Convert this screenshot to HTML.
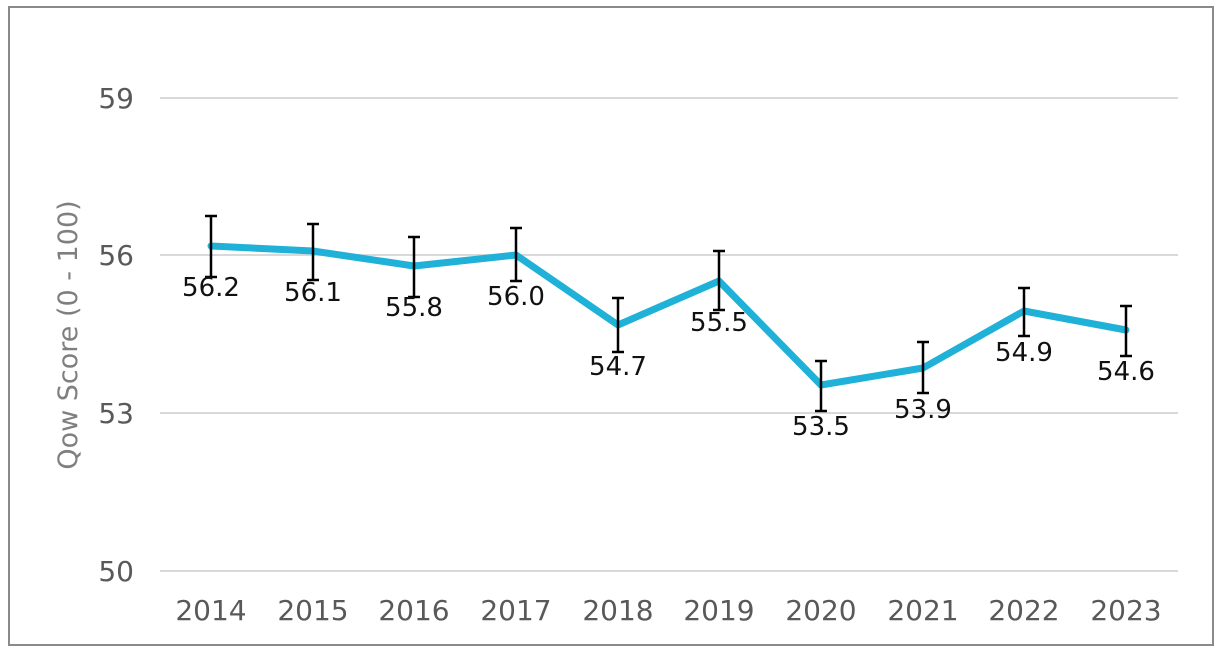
<!DOCTYPE html>
<html><head><meta charset="utf-8"><style>
html,body{margin:0;padding:0;background:#fff;}
svg{display:block;font-family:"DejaVu Sans","Liberation Sans",sans-serif;}
</style></head><body>
<svg width="1224" height="654" viewBox="0 0 1224 654" xmlns="http://www.w3.org/2000/svg">
<rect x="9" y="7" width="1204" height="638" fill="#fff" stroke="#8a8a8a" stroke-width="2"/>
<g stroke="#d9d9d9" stroke-width="2">
<line x1="160" y1="98" x2="1178" y2="98"/>
<line x1="160" y1="255" x2="1178" y2="255"/>
<line x1="160" y1="413" x2="1178" y2="413"/>
<line x1="160" y1="571" x2="1178" y2="571"/>
</g>
<g fill="#595959" font-size="28" text-anchor="end">
<text x="134" y="108">59</text>
<text x="134" y="265">56</text>
<text x="134" y="423">53</text>
<text x="134" y="581">50</text>
</g>
<text transform="translate(77,335) rotate(-90)" fill="#7f7f7f" font-size="27" text-anchor="middle">Qow Score (0 - 100)</text>
<g fill="#595959" font-size="28" text-anchor="middle">
<text x="211" y="620">2014</text><text x="313" y="620">2015</text><text x="414" y="620">2016</text>
<text x="516" y="620">2017</text><text x="618" y="620">2018</text><text x="719" y="620">2019</text>
<text x="821" y="620">2020</text><text x="923" y="620">2021</text><text x="1024" y="620">2022</text>
<text x="1126" y="620">2023</text>
</g>
<polyline fill="none" stroke="#1fb1d8" stroke-width="7" stroke-linejoin="round" stroke-linecap="round"
points="211,246 313,251 414,266 516,255 618,325 719,281 821,385 923,368 1024,311 1126,330"/>
<g stroke="#000" stroke-width="2.5">
<path d="M211 216V277M205 216H217M205 277H217"/>
<path d="M313 224V280M307 224H319M307 280H319"/>
<path d="M414 237V297M408 237H420M408 297H420"/>
<path d="M516 228V281M510 228H522M510 281H522"/>
<path d="M618 298V352M612 298H624M612 352H624"/>
<path d="M719 251V310M713 251H725M713 310H725"/>
<path d="M821 361V411M815 361H827M815 411H827"/>
<path d="M923 342V393M917 342H929M917 393H929"/>
<path d="M1024 288V336M1018 288H1030M1018 336H1030"/>
<path d="M1126 306V356M1120 306H1132M1120 356H1132"/>
</g>
<g fill="#111" font-size="26" text-anchor="middle">
<text x="211" y="296">56.2</text><text x="313" y="301">56.1</text><text x="414" y="316">55.8</text>
<text x="516" y="305">56.0</text><text x="618" y="375">54.7</text><text x="719" y="331">55.5</text>
<text x="821" y="435">53.5</text><text x="923" y="418">53.9</text><text x="1024" y="361">54.9</text>
<text x="1126" y="380">54.6</text>
</g>
</svg>
</body></html>
